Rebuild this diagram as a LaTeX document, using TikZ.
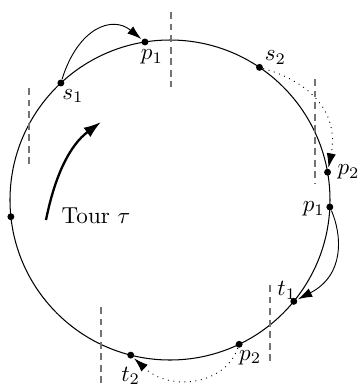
\documentclass[tikz,border=0pt]{standalone}
\usetikzlibrary{arrows.meta,calc}
\begin{document}
\begin{tikzpicture}[x=0.433pt,y=-0.433pt,
  dot/.style={circle,fill,inner sep=0pt,minimum size=3pt},
  lbl/.style={inner sep=0pt},
  sep/.style={draw=black!55,line width=0.65pt,dash pattern=on 3pt off 2pt},
  arr/.style={-{Latex[length=6.2pt,width=4pt]},shorten >=0.3pt},
  darr/.style={arr,dotted}]
\useasboundingbox (0,0) rectangle (363,388);
\coordinate (C) at (170,200);
\draw[line width=0.45pt] (C) circle[radius=160];
% points on the tour
\path (C) ++(227:160) coordinate (s1);
\path (C) ++(261:160) coordinate (p1a);
\path (C) ++(304:160) coordinate (s2);
\path (C) ++(-10:160) coordinate (p2a);
\path (C) ++(2.5:160) coordinate (p1b);
\path (C) ++(39.3:160) coordinate (t1);
\path (C) ++(64.4:160) coordinate (p2b);
\path (C) ++(104.2:160) coordinate (t2);
\path (C) ++(174:160) coordinate (w);
\node[dot] (ds1) at (s1) {};
\node[dot] (dp1a) at (p1a) {};
\node[dot] (ds2) at (s2) {};
\node[dot] (dp2a) at (p2a) {};
\node[dot] (dp1b) at (p1b) {};
\node[dot] (dt1) at (t1) {};
\node[dot] (dp2b) at (p2b) {};
\node[dot] (dt2) at (t2) {};
\node[dot] (dw) at (w) {};
% labels
\node[lbl] (Ls1) at ($(s1)+(12,13)$) {$s_1$};
\node[lbl] (Lp1a) at ($(p1a)+(7,15)$) {$p_1$};
\node[lbl] (Ls2) at ($(s2)+(16,-10)$) {$s_2$};
\node[lbl] (Lp2a) at ($(p2a)+(21,0)$) {$p_2$};
\node[lbl] (Lp1b) at ($(p1b)+(-16,2)$) {$p_1$};
\node[lbl] (Lt1) at ($(t1)+(-7,-11)$) {$t_1$};
\node[lbl] (Lp2b) at ($(p2b)+(11,13)$) {$p_2$};
\node[lbl] (Lt2) at ($(t2)+(0,21)$) {$t_2$};
% separators
\draw[sep] (29,88) -- (29,165);
\draw[sep] (171,12) -- (171,87);
\draw[sep] (315,79) -- (315,183);
\draw[sep] (270,285) -- (270,362);
\draw[sep] (101,307) -- (101,383);
% moves
\draw[arr] (ds1) .. controls (78,28) and (112,15) .. (dp1a);
\draw[darr] (ds2) .. controls (320,85) and (338,120) .. (dp2a);
\draw[arr] (dp1b) .. controls (342,235) and (345,275) .. (dt1);
\draw[darr] (dp2b) .. controls (225,385) and (170,392) .. (dt2);
% tour direction
\node[lbl,anchor=base] (tour) at (96,223) {Tour $\tau$};
\coordinate (ta) at (46,220);
\coordinate (tb) at (101,122);
\draw[line width=1pt,-{Latex[length=7.5pt,width=5pt]}] (ta) .. controls (55,175) and (70,145) .. (tb);
\end{tikzpicture}
\end{document}
